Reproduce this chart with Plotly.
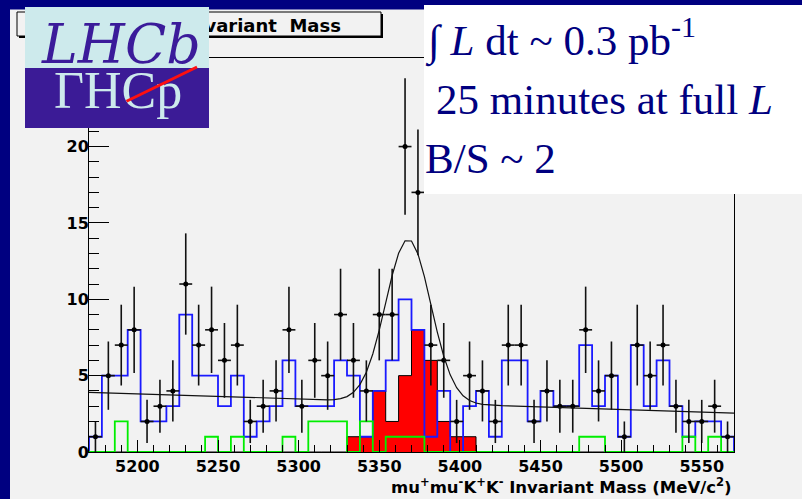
import numpy as np
import plotly.graph_objects as go

# ---- binning ----
X_MIN, X_MAX, BIN_W = 5170, 5570, 8
NBINS = 50
Y_MAX = 25.8

# ---- histogram contents (entries per 8 MeV bin) ----
data_counts = [1, 5, 7, 8, 2, 3, 4, 11, 7, 8, 6, 7, 2, 3, 4, 8, 3, 6, 5, 9,
               6, 4, 9, 9, 20, 17, 7, 6, 2, 5, 4, 2, 7, 7, 2, 4, 3, 3, 8, 4,
               5, 1, 7, 5, 7, 3, 2, 2, 3, 1]
blue_counts = [1, 5, 5, 8, 2, 2, 3, 9, 5, 5, 3, 5, 1, 2, 3, 6, 3, 3, 3, 6,
               5, 1, 4, 6, 10, 8, 1, 4, 0, 3, 4, 1, 6, 6, 2, 4, 3, 3, 7, 3,
               5, 1, 7, 3, 6, 3, 1, 2, 2, 1]
signal_counts = [0, 0, 0, 0, 0, 0, 0, 0, 0, 0, 0, 0, 0, 0, 0, 0, 0, 0, 0, 0,
                 1, 1, 4, 2, 5, 8, 6, 2, 1, 1, 0, 0, 0, 0, 0, 0, 0, 0, 0, 0,
                 0, 0, 0, 0, 0, 0, 0, 0, 0, 0]
green_counts = [0, 0, 2, 0, 0, 0, 0, 0, 0, 1, 0, 1, 0, 0, 0, 1, 0, 2, 2, 2,
                0, 2, 0, 1, 1, 1, 0, 0, 0, 0, 0, 0, 0, 0, 0, 0, 0, 0, 1, 1,
                0, 0, 0, 0, 0, 0, 1, 0, 1, 0]

# ---- fit: gaussian peak on a linear background ----
FIT_BKG0 = 3.9        # background level at X_MIN
FIT_SLOPE = -0.003375 # per MeV
FIT_AMP = 10.7
FIT_MEAN = 5368.0
FIT_SIGMA = 14.0

x_tick_vals = [5200, 5250, 5300, 5350, 5400, 5450, 5500, 5550]
y_tick_vals = [0, 5, 10, 15, 20, 25]

# ---- page geometry ----
W, H = 802, 499
ML, MR, MT, MB = 89, 68, 58, 47
PW, PH = W - ML - MR, H - MT - MB


def px(x):
    return (x - ML) / PW


def py(y):
    return (H - MB - y) / PH


edges = X_MIN + BIN_W * np.arange(NBINS + 1)
centers = edges[:-1] + BIN_W / 2.0


def step_xy(counts):
    xs = np.concatenate([[edges[0]], edges[:-1], [edges[-1]]])
    ys = np.concatenate([[0], np.asarray(counts, float), [0]])
    return xs, ys


fig = go.Figure()

sx, sy = step_xy(signal_counts)
fig.add_trace(go.Scatter(x=sx, y=sy, mode="lines", line_shape="hv",
                         line=dict(color="black", width=1),
                         fill="tozeroy", fillcolor="#ff0000",
                         hoverinfo="skip", showlegend=False))

bx, by = step_xy(blue_counts)
fig.add_trace(go.Scatter(x=bx, y=by, mode="lines", line_shape="hv",
                         line=dict(color="#1a1aff", width=1.8),
                         hoverinfo="skip", showlegend=False))

gx, gy = step_xy(green_counts)
fig.add_trace(go.Scatter(x=gx, y=gy, mode="lines", line_shape="hv",
                         line=dict(color="#00ee00", width=1.8),
                         hoverinfo="skip", showlegend=False))

dc = np.asarray(data_counts, float)
fig.add_trace(go.Scatter(
    x=centers, y=dc, mode="markers",
    marker=dict(symbol="circle", size=5, color="black"),
    error_y=dict(type="data", array=np.sqrt(dc), width=0, thickness=1.6, color="#111111"),
    error_x=dict(type="data", array=np.full(NBINS, BIN_W / 2.0), width=0, thickness=1.6, color="#111111"),
    showlegend=False))

fx = np.linspace(X_MIN, X_MAX, 101)
fy = FIT_BKG0 + FIT_SLOPE * (fx - X_MIN) + FIT_AMP * np.exp(-0.5 * ((fx - FIT_MEAN) / FIT_SIGMA) ** 2)
fig.add_trace(go.Scatter(x=fx, y=fy, mode="lines", line=dict(color="#111111", width=1.2),
                         hoverinfo="skip", showlegend=False))

CANVAS = "#f2f2f2"
NAVY = "#000080"
tickfont = dict(family="DejaVu Sans", size=16, color="black", weight="bold")

fig.update_xaxes(range=[X_MIN, X_MAX], showline=True, linecolor="black", linewidth=1, mirror=True,
                 showgrid=False, zeroline=False, ticks="inside", ticklen=12, tickwidth=1,
                 tickcolor="black", tickvals=x_tick_vals, tickfont=tickfont,
                 minor=dict(dtick=10, tick0=X_MIN, ticks="inside", ticklen=7, tickcolor="black"))
fig.update_yaxes(range=[0, Y_MAX], showline=True, linecolor="black", linewidth=1, mirror=True,
                 showgrid=False, zeroline=False, ticks="inside", ticklen=20, tickwidth=1,
                 tickcolor="black", tickvals=y_tick_vals, tickfont=tickfont, ticklabelstandoff=-4,
                 minor=dict(dtick=1, tick0=0, ticks="inside", ticklen=10, tickcolor="black"))

shapes = [
    # dark frame around the canvas
    dict(type="rect", xref="paper", yref="paper", x0=px(0), x1=px(W), y0=py(0), y1=py(9.5),
         fillcolor=NAVY, line=dict(width=0), layer="above"),
    dict(type="rect", xref="paper", yref="paper", x0=px(0), x1=px(10), y0=py(0), y1=py(H),
         fillcolor=NAVY, line=dict(width=0), layer="above"),
    # histogram title box with its shadow
    dict(type="rect", xref="paper", yref="paper", x0=px(19), x1=px(383), y0=py(14), y1=py(38),
         fillcolor="black", line=dict(width=0), layer="above"),
    dict(type="rect", xref="paper", yref="paper", x0=px(17), x1=px(381), y0=py(12), y1=py(36),
         fillcolor=CANVAS, line=dict(color="black", width=1), layer="above"),
]

serif = "Liberation Serif"
annotations = [
    dict(text="mu<sup>+</sup>mu<sup>-</sup>K<sup>+</sup>K<sup>-</sup> Invariant&nbsp; Mass",
         xref="paper", yref="paper", x=px(343), y=py(24), xanchor="right", yanchor="middle",
         showarrow=False, font=dict(family="DejaVu Sans", size=18, color="black", weight="bold")),
    # LHCb logo
    dict(text=" ", xref="paper", yref="paper", x=px(25), y=py(7), xanchor="left", yanchor="top",
         width=184, height=61, bgcolor="#cdeaec", borderpad=0, borderwidth=0, showarrow=False),
    dict(text=" ", xref="paper", yref="paper", x=px(25), y=py(68), xanchor="left", yanchor="top",
         width=184, height=60, bgcolor="#3b1b96", borderpad=0, borderwidth=0, showarrow=False),
    dict(text="<i>LHCb</i>", xref="paper", yref="paper", x=px(121), y=py(44), xanchor="center",
         yanchor="middle", showarrow=False,
         font=dict(family="DejaVu Serif", size=54, color="#3b1b9a")),
    dict(text="ΓHCp", xref="paper", yref="paper", x=px(118), y=py(90), xanchor="center",
         yanchor="middle", showarrow=False,
         font=dict(family=serif, size=52, color="#cdeaec")),
    dict(text="", xref="paper", yref="paper", x=px(197), y=py(67), ax=-72, ay=35,
         showarrow=True, arrowhead=0, arrowwidth=3, arrowcolor="#ff1010", standoff=0, startstandoff=0),
    # run summary box
    dict(text=" ", xref="paper", yref="paper", x=px(424), y=py(4.5), xanchor="left", yanchor="top",
         width=W - 424, height=188.5, bgcolor="white", borderpad=0, borderwidth=0, showarrow=False),
    dict(text="∫ <i>L</i> dt ~ 0.3 pb<sup>-1</sup>", xref="paper", yref="paper", x=px(423), y=py(38),
         xanchor="left", yanchor="middle", showarrow=False,
         font=dict(family=serif, size=43, color=NAVY)),
    dict(text="25 minutes at full <i>L</i>", xref="paper", yref="paper", x=px(434), y=py(99),
         xanchor="left", yanchor="middle", showarrow=False,
         font=dict(family=serif, size=43, color=NAVY)),
    dict(text="B/S ~ 2", xref="paper", yref="paper", x=px(423), y=py(158),
         xanchor="left", yanchor="middle", showarrow=False,
         font=dict(family=serif, size=43, color=NAVY)),
    # x axis title
    dict(text="mu<sup>+</sup>mu<sup>-</sup>K<sup>+</sup>K<sup>-</sup> Invariant Mass (MeV/c<sup>2</sup>)",
         xref="paper", yref="paper", x=px(734), y=py(486), xanchor="right", yanchor="middle",
         showarrow=False, font=dict(family="DejaVu Sans", size=16.5, color="black", weight="bold")),
]

fig.update_layout(width=W, height=H, autosize=False,
                  margin=dict(l=ML, r=MR, t=MT, b=MB, pad=0),
                  paper_bgcolor=CANVAS, plot_bgcolor=CANVAS,
                  shapes=shapes, annotations=annotations, showlegend=False)

fig.write_html("out.html", config={"displayModeBar": False})
